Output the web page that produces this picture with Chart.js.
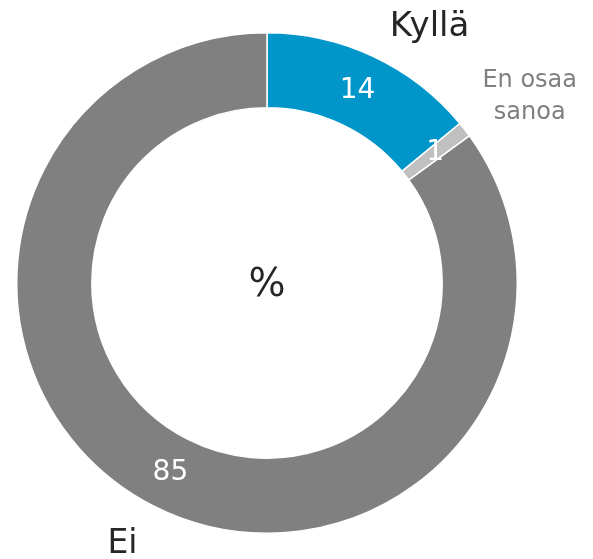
<!DOCTYPE html>
<html><head><meta charset="utf-8">
<script src="https://cdn.jsdelivr.net/npm/chart.js@4/dist/chart.umd.min.js"></script>
<style>html,body{margin:0;padding:0;background:#fff;}#wrap{width:593px;height:559px;position:relative;}</style>
</head><body><div id="wrap"><canvas id="c"></canvas></div>
<script>
const categories = ["Kyllä", "En osaa sanoa", "Ei"];
const values = [14, 1, 85];
const centerText = "%";

const colors = ["#0096C9", "#C0C0C0", "#808080"];
const nameStyles = [
  {dx: 56, dy: -29, color: "#262626", size: 34, lines: ["Kyllä"]},
  {dx: 65, dy: -33, color: "#808080", size: 24, lines: ["En osaa", "sanoa"]},
  {dx: -31, dy: 38, color: "#262626", size: 33, lines: ["Ei"]}
];

const labelPlugin = {
  id: 'labels',
  afterDatasetsDraw(chart) {
    const ctx = chart.ctx;
    const meta = chart.getDatasetMeta(0);
    ctx.save();
    ctx.textAlign = 'center';
    ctx.textBaseline = 'middle';
    meta.data.forEach((arc, i) => {
      const p = arc.getProps(['x','y','startAngle','endAngle','innerRadius','outerRadius'], true);
      const mid = (p.startAngle + p.endAngle) / 2;
      const rm = (p.innerRadius + p.outerRadius) / 2;
      ctx.fillStyle = '#ffffff';
      ctx.font = '28px "DejaVu Sans"';
      ctx.fillText(String(values[i]), p.x + Math.cos(mid) * rm, p.y + Math.sin(mid) * rm);
      const s = nameStyles[i];
      const ax = p.x + Math.cos(mid) * p.outerRadius + s.dx;
      const ay = p.y + Math.sin(mid) * p.outerRadius + s.dy;
      ctx.fillStyle = s.color;
      ctx.font = s.size + 'px "DejaVu Sans"';
      const lh = s.size * 1.33;
      s.lines.forEach((t, k) => {
        ctx.fillText(t, ax, ay + (k - (s.lines.length - 1) / 2) * lh);
      });
    });
    const a0 = meta.data[0];
    ctx.fillStyle = '#262626';
    ctx.font = '39px "DejaVu Sans"';
    ctx.fillText(centerText, a0.x, a0.y + 3);
    ctx.restore();
  }
};

new Chart(document.getElementById('c'), {
  type: 'doughnut',
  data: {
    labels: categories,
    datasets: [{
      data: values,
      backgroundColor: colors,
      borderColor: '#ffffff',
      borderWidth: 1.5,
      hoverOffset: 0
    }]
  },
  options: {
    responsive: true,
    maintainAspectRatio: false,
    animation: false,
    cutout: '70%',
    layout: {padding: {left: 16, right: 75, top: 32, bottom: 25}},
    plugins: {legend: {display: false}, tooltip: {enabled: false}}
  },
  plugins: [labelPlugin]
});
</script></body></html>
